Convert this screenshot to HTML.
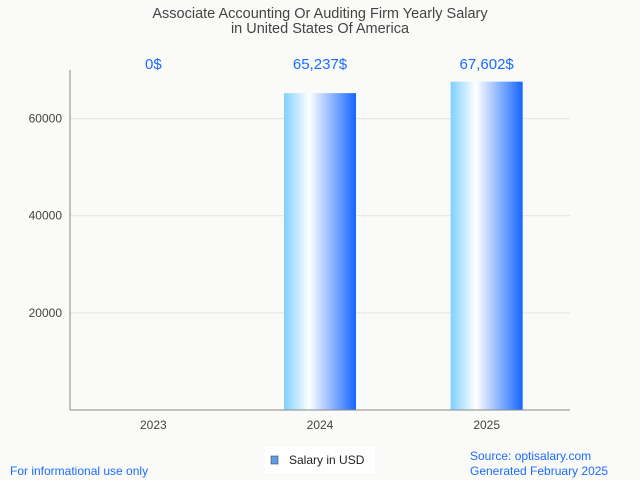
<!DOCTYPE html>
<html><head><meta charset="utf-8"><style>
html,body{margin:0;padding:0;background:#fafaf8;}
svg{display:block;font-family:"Liberation Sans",sans-serif;}
</style></head><body>
<svg id="chart" width="640" height="480">
<defs>
<linearGradient id="barGrad" x1="0" x2="1" y1="0" y2="0">
<stop offset="0" stop-color="#7fd0ff"/>
<stop offset="0.35" stop-color="#ffffff"/>
<stop offset="1" stop-color="#1566ff"/>
</linearGradient>
</defs>
<rect width="640" height="480" fill="#fafaf8"/>
<text x="320" y="18" text-anchor="middle" font-size="14.5" fill="#444">Associate Accounting Or Auditing Firm Yearly Salary</text>
<text x="320" y="33" text-anchor="middle" font-size="14.5" fill="#444">in United States Of America</text>
<g id="grid"></g>
<g id="bars"></g>
<line x1="70" y1="70" x2="70" y2="410" stroke="#888"/>
<line x1="70" y1="410" x2="570" y2="410" stroke="#888"/>
<g>
<rect x="265" y="447" width="110" height="26" fill="#fff"/>
<rect x="271" y="456" width="7" height="8" fill="#5b9ee8" stroke="#444" stroke-width="0.6"/>
<text x="289" y="464" font-size="12" fill="#222">Salary in USD</text>
</g>
<text x="10" y="475" font-size="12" fill="#1a6cff">For informational use only</text>
<text x="470" y="460" font-size="12" fill="#1a6cff">Source: optisalary.com</text>
<text x="470" y="475" font-size="12" fill="#1a6cff">Generated February 2025</text>
</svg>
<script>
const categories = ["2023", "2024", "2025"];
const salaries = [0, 65237, 67602];
const valueLabels = ["0$", "65,237$", "67,602$"];
const yTicks = [20000, 40000, 60000];
const yMax = 70000;
const NS = "http://www.w3.org/2000/svg";
const plotLeft = 70, plotRight = 570, plotTop = 70, plotBottom = 410;
function yScale(v){ return plotBottom - (v / yMax) * (plotBottom - plotTop); }
function xCenter(i){ const bw = (plotRight - plotLeft) / categories.length; return plotLeft + bw * (i + 0.5); }
function mk(tag, attrs, parent){ const e = document.createElementNS(NS, tag); for (const k in attrs) e.setAttribute(k, attrs[k]); parent.appendChild(e); return e; }
const grid = document.getElementById("grid");
const bars = document.getElementById("bars");
yTicks.forEach(t => {
  const y = yScale(t);
  const l = mk("line", {x1: plotLeft, x2: plotRight, y1: y, y2: y, stroke: "#e2e2e2"}, grid);
  
  
  const tx = mk("text", {x: plotLeft - 8, y: y + 4, "text-anchor": "end", "font-size": 12, fill: "#444"}, grid);
  tx.textContent = t;
  
  
});
categories.forEach((c, i) => {
  const cx = xCenter(i);
  const y = yScale(salaries[i]);
  if (salaries[i] > 0) {
    const r = mk("rect", {x: cx - 36, y: y, width: 72, height: plotBottom - y, fill: "url(#barGrad)"}, bars);
    
    
  }
  const vl = mk("text", {x: cx, y: 69, "text-anchor": "middle", "font-size": 15, fill: "#1a6cff"}, bars);
  vl.textContent = valueLabels[i];
  
  
  const xl = mk("text", {x: cx, y: 429, "text-anchor": "middle", "font-size": 12, fill: "#444"}, bars);
  xl.textContent = c;
  
  
});
</script>
</body></html>
